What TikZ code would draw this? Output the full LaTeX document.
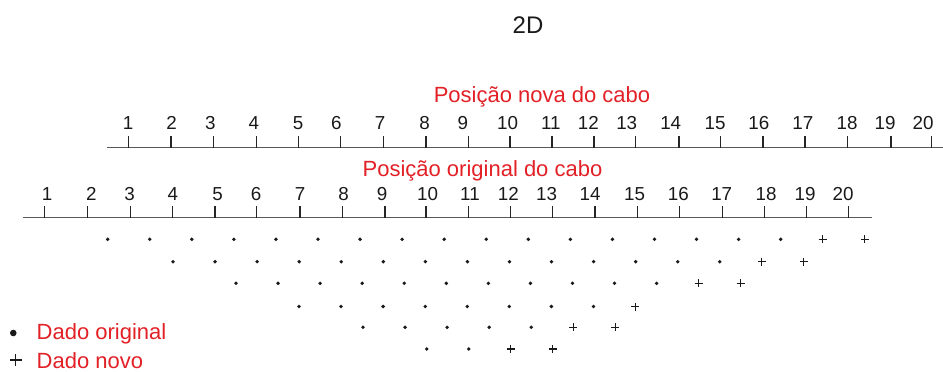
\documentclass[tikz,border=0pt]{standalone}
\usepackage{fontspec}
\setmainfont{Liberation Sans}
\definecolor{lblred}{RGB}{226,32,38}
\begin{document}
\begin{tikzpicture}[x=1pt,y=-1pt,
  num/.style={font=\fontsize{18.8}{20}\selectfont, anchor=base, inner sep=0pt, text=black!90},
  ttl/.style={font=\fontsize{22}{24}\selectfont, text=lblred, anchor=base, inner sep=0pt},
  axisline/.style={draw=black!65, line width=1.2pt},
  tickmark/.style={draw=black!85, line width=1.1pt},
  olddot/.style={fill=black!90, draw=none},
  newplus/.style={draw=black!90, line width=1.1pt}]
\useasboundingbox (0,0) rectangle (943,372);
% titles
\node[font=\fontsize{24}{26}\selectfont, anchor=base, inner sep=0pt, text=black!90] (title) at (528,34) {2D};
\node[ttl] (newlbl) at (542,102.7) {Posição nova do cabo};
\node[ttl] (oldlbl) at (482.5,176.7) {Posição original do cabo};
% top axis (new position)
\draw[axisline] (107,147.7) -- (943,147.7);
\foreach \t in {128.3,171,213.7,256.3,298.7,340.3,383.7,426,468.3,510,552,594,635.7,679,720.3,763,805,847.7,891,931.7}
  \draw[tickmark] (\t,136) -- (\t,147.7);
\foreach \l [count=\i] in {128,171.7,210.3,253.8,298,336.3,380,424.5,462.8,507.5,550.8,588.3,626.7,670.7,715,758.8,802.8,847,885,923}
  \node[num] (top\i) at (\l,129.3) {\i};
% bottom axis (original position)
\draw[axisline] (23,217.7) -- (872,217.7);
\foreach \t in {44.3,87.7,130.3,172.7,215,256.7,300,342.7,385,426,468.3,510.7,552.3,595,637.3,679.3,722.3,764.7,806.7,848.7}
  \draw[tickmark] (\t,206) -- (\t,217.7);
\foreach \l [count=\i] in {47,91.3,129.7,172.8,217.5,256.2,300,343.7,382.2,427.5,470,508.3,546.7,590,634.5,678.3,721.7,766,805,843}
  \node[num] (bot\i) at (\l,200) {\i};
% data points
\foreach \xs/\yr/\nd/\np in {107.7/239.3/17/2, 173/261.7/14/2, 236/283.3/11/2, 299/306.5/8/1, 363/327.3/5/2, 426.7/349/2/2} {
  \foreach \k in {1,...,\nd} {
    \pgfmathsetmacro{\px}{\xs+(\k-1)*42.06}
    \fill[olddot] (\px,\yr) circle (1.9);
  }
  \foreach \k in {1,...,\np} {
    \pgfmathsetmacro{\px}{\xs+(\nd+\k-1)*42.06}
    \draw[newplus] (\px-4,\yr) -- (\px+4,\yr) (\px,\yr-4) -- (\px,\yr+4);
  }
}
% legend
\fill[olddot] (13.3,333) circle (3.3);
\draw[newplus, line width=1.2pt] (10,360) -- (21.5,360) (15.7,354.2) -- (15.7,365.8);
\node[ttl, anchor=base west] (lego) at (36.5,339) {Dado original};
\node[ttl, anchor=base west] (legn) at (36.5,368.5) {Dado novo};
\end{tikzpicture}
\end{document}
